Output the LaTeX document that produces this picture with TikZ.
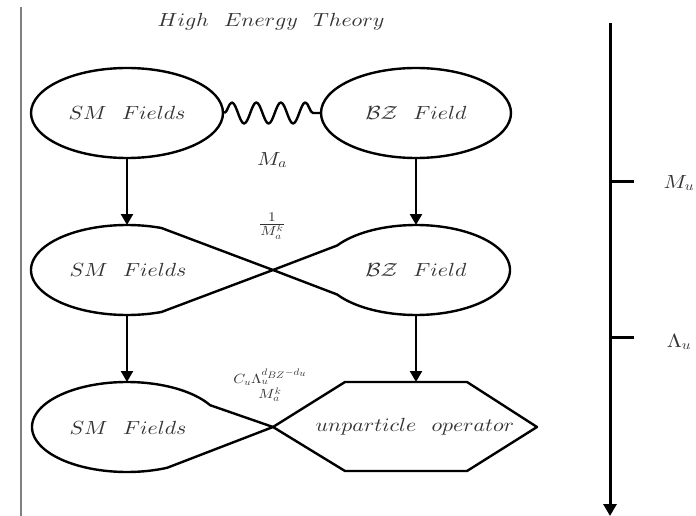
\documentclass[tikz,border=0pt]{standalone}
\usepackage{amsmath}
\DeclareFontShape{OML}{cmm}{m}{it}{<->cmmi10}{\skewchar\font'177}
\DeclareFontShape{OMS}{cmsy}{m}{n}{<->cmsy10}{\skewchar\font'60}
\DeclareFontShape{OT1}{cmr}{m}{n}{<->cmr10}{}
\usetikzlibrary{shapes.geometric,arrows.meta,decorations.pathmorphing}
\newcommand\wlab[1]{\scalebox{1.15}[1]{$#1$}}
\newcommand\wsp{\hspace{0.7em}}
\begin{document}
\begin{tikzpicture}[x=1pt,y=-1pt,
  shp/.style={line width=2.4pt, draw=black, line join=round},
  lbl/.style={font=\fontsize{19}{23}\selectfont, text=black!80, inner sep=0pt},
  flow/.style={line width=2.4pt, -{Triangle[width=12pt,length=11pt]}},
  oval/.style={shp, ellipse, minimum width=192pt, minimum height=90pt, inner sep=0pt,
               font=\fontsize{19}{23}\selectfont, text=black!80},
  axis/.style={line width=3pt}]
\useasboundingbox (0,0) rectangle (696,516);

% left rule
\coordinate (lt) at (21,7);
\coordinate (lb) at (21,516);
\draw[gray, line width=1.2pt] (lt) -- (lb);

% title
\node[lbl] (title) at (271,22) {\wlab{High\wsp Energy\wsp Theory}};

% top row
\node[oval] (sm1) at (127,113) {\wlab{SM\wsp Fields}};
\node[oval, minimum width=190pt] (bz1) at (416,113) {\wlab{\mathcal{BZ}\wsp Field}};
\draw[shp, decorate, decoration={snake, segment length=24.5pt, amplitude=10.5pt}] (sm1.east) -- (bz1.west);
\node[lbl] (ma) at (272,160) {\wlab{M_a}};

% middle row
\draw[shp] plot[domain=69:291, samples=90] ({127+96*cos(\x)},{270-45*sin(\x)}) -- (273,270) -- cycle;
\draw[shp] plot[domain=-147:147, samples=90] ({416+94*cos(\x)},{270-45*sin(\x)}) -- (273,270) -- cycle;
\node[lbl] (sm2) at (128,270) {\wlab{SM\wsp Fields}};
\node[lbl] (bz2) at (416,270) {\wlab{\mathcal{BZ}\wsp Field}};
\coordinate (sm2n) at (127,225);
\coordinate (sm2s) at (127,315);
\coordinate (bz2n) at (416,225);
\coordinate (bz2s) at (416,315);
\node[lbl] (mk) at (272,226) {\wlab{\frac{1}{M_a^k}}};

% bottom row
\draw[shp] plot[domain=29:295, samples=90] ({127+95*cos(\x)},{427-45*sin(\x)}) -- (273,427) -- cycle;
\draw[shp] (273,427) -- (345,382) -- (467,382) -- (537,427) -- (467,471) -- (345,471) -- cycle;
\node[lbl] (sm3) at (128,428) {\wlab{SM\wsp Fields}};
\node[lbl] (uo) at (415,427) {\wlab{unparticle\wsp operator}};
\coordinate (sm3n) at (127,382);
\coordinate (uon) at (416,382);
\node[lbl] (cu) at (270,385) {\wlab{\genfrac{}{}{0pt}{}{C_u\Lambda_u^{d_{BZ}-d_u}}{M_a^k}}};

% flow arrows
\draw[flow] (sm1.south) -- (sm2n);
\draw[flow] (bz1.south) -- (bz2n);
\draw[flow] (sm2s) -- (sm3n);
\draw[flow] (bz2s) -- (uon);

% energy axis
\coordinate (at) at (610,23);
\coordinate (ab) at (610,516);
\draw[axis, -{Triangle[width=13pt,length=12pt]}] (at) -- (ab);
\coordinate (t1) at (610,181);
\coordinate (t1e) at (634,181);
\coordinate (t2) at (610,337);
\coordinate (t2e) at (634,337);
\draw[axis] (t1) -- (t1e);
\draw[axis] (t2) -- (t2e);
\node[lbl] (mu) at (679,183) {\wlab{M_u}};
\node[lbl] (lu) at (679,342) {\wlab{\Lambda_u}};
\end{tikzpicture}
\end{document}
